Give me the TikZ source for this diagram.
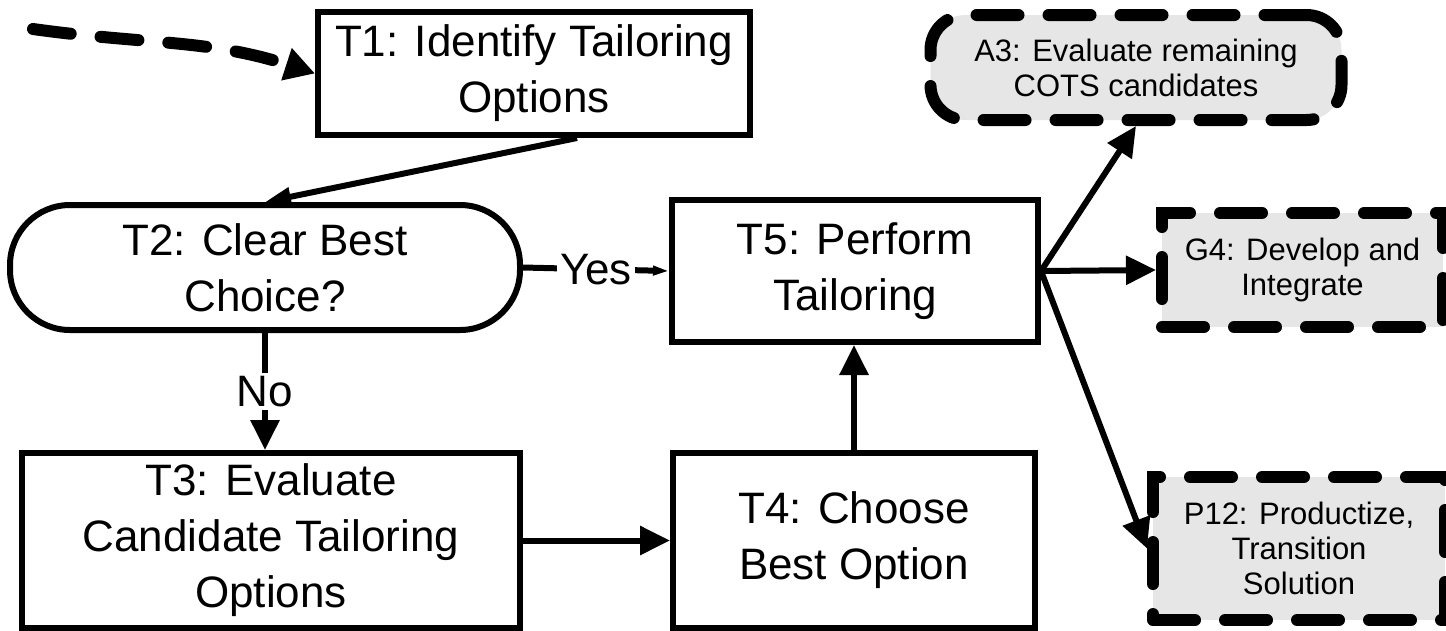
\documentclass[tikz,border=0pt]{standalone}
\usepackage{fontspec}
\setmainfont{Liberation Sans}
\usetikzlibrary{arrows.meta}
\definecolor{extfill}{HTML}{E6E6E6}
\begin{document}
\begin{tikzpicture}[x=1pt,y=-1pt,
  box/.style={draw, line width=6pt, inner sep=0pt, align=center, font=\fontsize{44}{56}\selectfont},
  ext/.style={draw, line width=12pt, dash pattern=on 42pt off 30pt, line cap=round, fill=extfill, inner sep=0pt, align=center, font=\fontsize{31}{35}\selectfont},
  conn/.style={line width=6pt, -{Triangle[length=30pt,width=28pt]}},
  lbl/.style={fill=white, inner sep=3pt, font=\fontsize{44}{56}\selectfont}]
\useasboundingbox (0,0) rectangle (1446,630);

\node[box, minimum width=432pt, minimum height=123pt] (t1) at (534,73.5) {T1: Identify Tailoring\\Options};
\node[box, rounded corners=60pt, minimum width=510pt, minimum height=125pt] (t2) at (265,267.5) {T2: Clear Best\\Choice?};
\node[box, minimum width=366pt, minimum height=142pt] (t5) at (855,271) {T5: Perform\\Tailoring};
\node[box, minimum width=498pt, minimum height=175pt] (t3) at (271,540.5) {T3: Evaluate\\Candidate Tailoring\\Options};
\node[box, minimum width=362pt, minimum height=175pt] (t4) at (854,540.5) {T4: Choose\\Best Option};

\node[ext, rounded corners=35pt, minimum width=411pt, minimum height=105pt] (a3) at (1136,67.5) {A3: Evaluate remaining\\COTS candidates};
\node[ext, minimum width=281pt, minimum height=114pt] (g4) at (1302.5,270) {G4: Develop and\\Integrate};
\node[ext, minimum width=292pt, minimum height=143pt] (p12) at (1299,548.5) {P12: Productize,\\Transition\\Solution};

\coordinate (s) at (33,29);
\draw[line width=12pt, dash pattern=on 38pt off 30pt, line cap=round, -{Triangle[length=30pt,width=32pt]}] (s) to[out=-8,in=162] (t1.west);

\draw[conn, -{Triangle[length=26pt,width=18pt]}] ([xshift=43pt]t1.south) -- (t2.north);
\draw[line width=6pt, -{Triangle[length=16pt,width=9pt]}] (t2.east) -- node[lbl] {Yes} (t5.west);
\draw[conn] (t2.south) -- node[lbl] {No} (t2.south |- t3.north);
\draw[conn] (t3.east) -- (t4.west);
\draw[conn] (t4.north) -- (t4.north |- t5.south);
\draw[conn] (t5.east) -- (a3.south);
\draw[conn] (t5.east) -- (g4.west);
\draw[conn] (t5.east) -- (p12.west);
\end{tikzpicture}
\end{document}
